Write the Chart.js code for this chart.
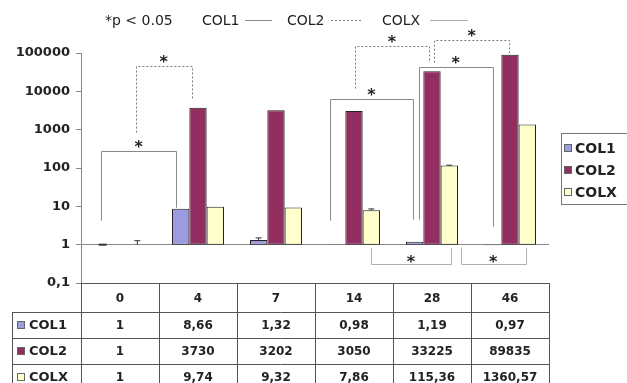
<!DOCTYPE html>
<html>
<head>
<meta charset="utf-8">
<script src="https://cdn.jsdelivr.net/npm/chart.js@4/dist/chart.umd.min.js"></script>
<style>
  html, body { margin: 0; padding: 0; background: #fff; }
  #wrap { width: 627px; height: 383px; }
</style>
</head>
<body>
<div id="wrap"><canvas id="c" width="627" height="383"></canvas></div>
<script>
'use strict'
// 측정 시점 (일)
const days = ['0', '4', '7', '14', '28', '46'];
// 시리즈 값
const col1 = [1, 8.66, 1.32, 0.98, 1.19, 0.97];
const col2 = [1, 3730, 3202, 3050, 33225, 89835];
const colx = [1, 9.74, 9.32, 7.86, 115.36, 1360.57];
// 오차 (위쪽)
const col1Err = [0, 0, 0.18, 0, 0, 0];
const col2Err = [0, 0, 0, 0, 0, 0];
const colxErr = [0.27, 0, 0, 0.7, 3, 0];
// y축 눈금
const yTicks = [0.1, 1, 10, 100, 1000, 10000, 100000];

const seriesNames = ['COL1', 'COL2', 'COLX'];
const seriesColors = ['#9b9be0', '#922f60', '#ffffcc'];

// 유의성 괄호 (x: 카테고리 단위, 나머지: y 값)
const brackets = [
    { s: 'solid', x1: -0.24, x2: 0.72, top: 270, b1: 4.2, b2: 9.2 },
    { s: 'dot', x1: 0.2, x2: 0.92, top: 44500, b1: 840, b2: 6500 },
    { s: 'solid', x1: 2.69, x2: 3.76, top: 6500, b1: 4.2, b2: 4.5 },
    { s: 'solid', x1: 3.83, x2: 4.78, top: 42000, b1: 4.5, b2: 2.95 },
    { s: 'dot', x1: 3.01, x2: 3.96, top: 148000, b1: 11800, b2: 56000 },
    { s: 'dot', x1: 4.03, x2: 4.99, top: 213000, b1: 56000, b2: 100000 },
    { s: 'light', x1: 3.22, x2: 4.24, top: 0.319, b1: 0.835, b2: 0.835 },
    { s: 'light', x1: 4.37, x2: 5.2, top: 0.319, b1: 0.835, b2: 0.835 }
];

const FONT = '"DejaVu Sans", sans-serif';
const lineColors = { solid: '#8a8a8a', dot: '#7a7a7a', light: '#b0b0b0' };

function fmt(v){
    return String(v).replace('.', ',');
}

//==================================================================================================

const extras = {
    id: 'extras',
    afterDatasetsDraw(chart){
        const ctx = chart.ctx;
        const xs = chart.scales.x;
        const ys = chart.scales.y;
        ctx.save();
        //높이 0 막대는 짧은 선으로
        const vals = [col1, col2, colx];
        const meta0 = chart.getDatasetMeta(0);
        [0].forEach((i) => {
            const bar = meta0.data[i];
            ctx.fillStyle = '#333';
            ctx.fillRect(bar.x - 4, ys.getPixelForValue(vals[0][i]) - 1, 8, 2);
        });
        //오차 막대
        const errs = [col1Err, col2Err, colxErr];
        errs.forEach((arr, d) => {
            const meta = chart.getDatasetMeta(d);
            arr.forEach((e, i) => {
                if(e <= 0) return;
                const bar = meta.data[i];
                const yTop = ys.getPixelForValue(vals[d][i] + e);
                const yVal = ys.getPixelForValue(vals[d][i]);
                ctx.strokeStyle = '#333';
                ctx.lineWidth = 1;
                ctx.beginPath();
                ctx.moveTo(bar.x, yVal);
                ctx.lineTo(bar.x, yTop);
                ctx.moveTo(bar.x - 3, yTop);
                ctx.lineTo(bar.x + 3, yTop);
                ctx.stroke();
            });
        });
        //괄호
        brackets.forEach((b) => {
            const x1 = xs.getPixelForValue(b.x1);
            const x2 = xs.getPixelForValue(b.x2);
            const yt = ys.getPixelForValue(b.top);
            const y1 = ys.getPixelForValue(b.b1);
            const y2 = ys.getPixelForValue(b.b2);
            ctx.strokeStyle = lineColors[b.s];
            ctx.lineWidth = 1;
            ctx.setLineDash(b.s === 'dot' ? [2, 2] : []);
            ctx.beginPath();
            ctx.moveTo(Math.round(x1) + 0.5, y1);
            ctx.lineTo(Math.round(x1) + 0.5, Math.round(yt) + 0.5);
            ctx.lineTo(Math.round(x2) + 0.5, Math.round(yt) + 0.5);
            ctx.lineTo(Math.round(x2) + 0.5, y2);
            ctx.stroke();
            ctx.setLineDash([]);
            const starY = yt - (b.top > b.b1 ? 8 : 6);
            ctx.fillStyle = '#222';
            ctx.font = 'bold 16px ' + FONT;
            ctx.textAlign = 'center';
            ctx.textBaseline = 'alphabetic';
            ctx.fillText('*', (x1 + x2) / 2, starY + 9);
        });
        ctx.restore();
    },
    afterDraw(chart){
        const ctx = chart.ctx;
        const xs = chart.scales.x;
        const area = chart.chartArea;
        ctx.save();
        //데이터 테이블
        const top = area.bottom;
        const rowTops = [top, top + 29, top + 55, top + 81, top + 107];
        const labelLeft = 12;
        const colEdges = [area.left];
        days.forEach((d, i) => colEdges.push(xs.getPixelForValue(i + 0.5)));
        ctx.strokeStyle = '#555';
        ctx.lineWidth = 1;
        ctx.beginPath();
        //가로줄
        ctx.moveTo(area.left, Math.round(rowTops[0]) + 0.5);
        ctx.lineTo(area.right, Math.round(rowTops[0]) + 0.5);
        for(let r = 1; r < rowTops.length; r++){
            ctx.moveTo(labelLeft, Math.round(rowTops[r]) + 0.5);
            ctx.lineTo(area.right, Math.round(rowTops[r]) + 0.5);
        }
        //세로줄
        colEdges.forEach((x) => {
            ctx.moveTo(Math.round(x) + 0.5, rowTops[0]);
            ctx.lineTo(Math.round(x) + 0.5, rowTops[4]);
        });
        ctx.moveTo(labelLeft + 0.5, rowTops[1]);
        ctx.lineTo(labelLeft + 0.5, rowTops[4]);
        ctx.stroke();

        ctx.fillStyle = '#222';
        ctx.textBaseline = 'middle';
        ctx.textAlign = 'center';
        ctx.font = 'bold 12px ' + FONT;
        days.forEach((d, i) => {
            ctx.fillText(d, xs.getPixelForValue(i), (rowTops[0] + rowTops[1]) / 2 + 1);
        });
        const rows = [col1, col2, colx];
        rows.forEach((arr, r) => {
            const cy = (rowTops[r + 1] + rowTops[r + 2]) / 2 + 1;
            ctx.textAlign = 'center';
            ctx.font = 'bold 12px ' + FONT;
            ctx.fillStyle = '#222';
            arr.forEach((v, i) => {
                ctx.fillText(fmt(v), xs.getPixelForValue(i), cy);
            });
            //행 이름
            ctx.fillStyle = seriesColors[r];
            ctx.fillRect(17, cy - 5, 8, 8);
            ctx.strokeStyle = '#666';
            ctx.strokeRect(17.5, cy - 4.5, 7, 7);
            ctx.fillStyle = '#222';
            ctx.textAlign = 'left';
            ctx.font = 'bold 13px ' + FONT;
            ctx.fillText(seriesNames[r], 29, cy);
        });

        //오른쪽 범례
        ctx.strokeStyle = '#777';
        ctx.strokeRect(561.5, 133.5, 80, 71);
        const legY = [148, 170, 192];
        seriesNames.forEach((n, i) => {
            ctx.fillStyle = seriesColors[i];
            ctx.fillRect(564, legY[i] - 4, 8, 8);
            ctx.strokeStyle = '#666';
            ctx.strokeRect(564.5, legY[i] - 3.5, 7, 7);
            ctx.fillStyle = '#222';
            ctx.textAlign = 'left';
            ctx.textBaseline = 'middle';
            ctx.font = 'bold 14px ' + FONT;
            ctx.fillText(n, 575, legY[i] + 1);
        });

        //상단 범례
        ctx.font = '14px ' + FONT;
        ctx.textBaseline = 'alphabetic';
        ctx.fillStyle = '#222';
        ctx.fillText('*p < 0.05', 105, 25);
        ctx.fillText('COL1', 202, 25);
        ctx.fillText('COL2', 287, 25);
        ctx.fillText('COLX', 382, 25);
        ctx.lineWidth = 1;
        ctx.strokeStyle = lineColors.solid;
        ctx.beginPath(); ctx.moveTo(245, 20.5); ctx.lineTo(272, 20.5); ctx.stroke();
        ctx.strokeStyle = lineColors.dot;
        ctx.setLineDash([2, 2]);
        ctx.beginPath(); ctx.moveTo(331, 20.5); ctx.lineTo(363, 20.5); ctx.stroke();
        ctx.setLineDash([]);
        ctx.strokeStyle = lineColors.light;
        ctx.beginPath(); ctx.moveTo(430, 20.5); ctx.lineTo(468, 20.5); ctx.stroke();
        ctx.restore();
    }
};

//==================================================================================================

new Chart(document.getElementById('c'), {
    type: 'bar',
    data: {
        labels: days,
        datasets: [col1, col2, colx].map((arr, i) => ({
            label: seriesNames[i],
            data: arr.map(v => [1, v]),
            backgroundColor: seriesColors[i],
            borderColor: '#222',
            borderWidth: 1,
            borderSkipped: false,
            categoryPercentage: 0.667,
            barPercentage: 1
        }))
    },
    options: {
        responsive: false,
        animation: false,
        layout: { padding: { top: 53, bottom: 100, right: 78, left: 0 } },
        plugins: {
            legend: { display: false },
            tooltip: { enabled: false }
        },
        scales: {
            x: { display: false, offset: true },
            y: {
                type: 'logarithmic',
                min: 0.1,
                max: 100000,
                afterBuildTicks: (s) => { s.ticks = yTicks.map(v => ({ value: v })); },
                afterFit: (s) => { s.width = 81; },
                ticks: {
                    autoSkip: false,
                    padding: 6,
                    color: '#222',
                    font: { family: FONT, size: 13, weight: 'bold' },
                    callback: (v) => fmt(v)
                },
                grid: {
                    color: (c) => (c.tick && c.tick.value === 1) ? '#888' : 'rgba(0,0,0,0)',
                    tickColor: '#888',
                    tickLength: 5
                },
                border: { color: '#888' }
            }
        }
    },
    plugins: [extras]
});
</script>
</body>
</html>
